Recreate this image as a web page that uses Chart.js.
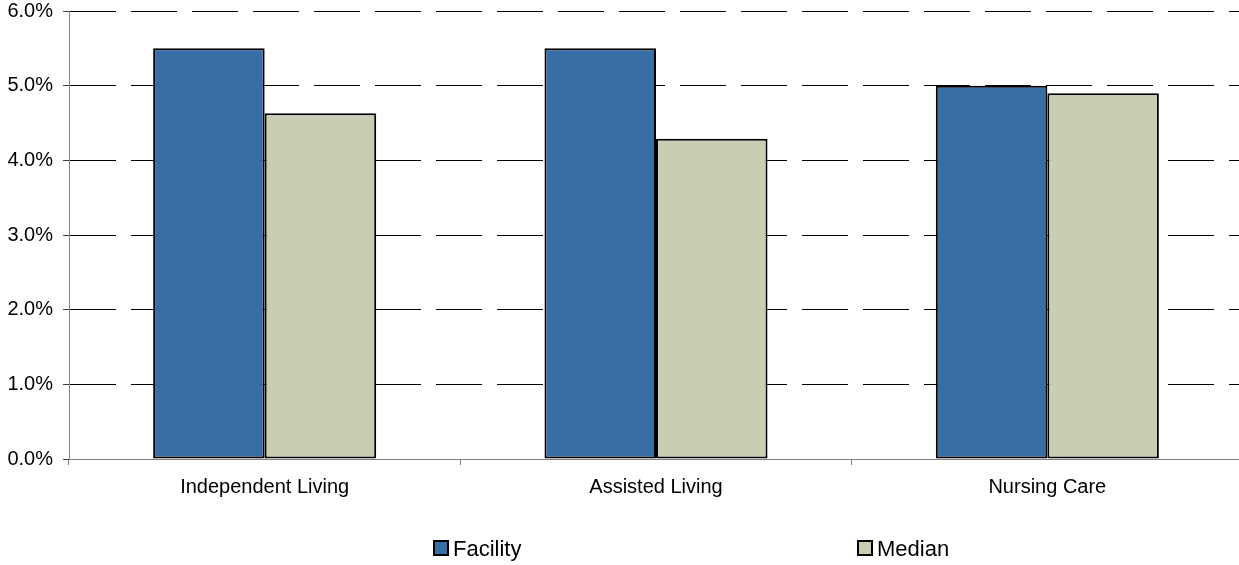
<!DOCTYPE html>
<html>
<head>
<meta charset="utf-8">
<script src="https://cdn.jsdelivr.net/npm/chart.js@4.4.1/dist/chart.umd.min.js"></script>
<style>
  html, body { margin: 0; padding: 0; background: #ffffff; overflow: hidden; }
  #wrap { position: relative; width: 1243px; height: 565px; }
</style>
</head>
<body>
<div id="wrap"><canvas id="chart"></canvas></div>
<script>
// Occupancy-style rates by care level, in percent
const categories = ['Independent Living', 'Assisted Living', 'Nursing Care'];
const facilityValues = [5.5, 5.5, 5.0];
const medianValues = [4.63, 4.29, 4.9];
const seriesNames = ['Facility', 'Median'];
const seriesColors = ['#376EA6', '#CBCDB3'];
const yTickLabels = ['0.0%', '1.0%', '2.0%', '3.0%', '4.0%', '5.0%', '6.0%'];

const FONT = '"Liberation Sans", Arial, Helvetica, sans-serif';

// Legend drawn along the bottom with widely spaced entries
const bottomLegend = {
  id: 'bottomLegend',
  afterDraw(chart) {
    const ctx = chart.ctx;
    const starts = [433, 857];
    const baseline = 556;
    ctx.save();
    ctx.font = '22px ' + FONT;
    ctx.textBaseline = 'alphabetic';
    ctx.textAlign = 'left';
    chart.data.datasets.forEach((ds, i) => {
      const x = starts[i];
      const top = 540;
      ctx.fillStyle = ds.backgroundColor;
      ctx.fillRect(x, top, 16, 16);
      ctx.lineWidth = 2;
      ctx.strokeStyle = '#000000';
      ctx.strokeRect(x + 1, top + 1, 14, 14);
      ctx.fillStyle = '#000000';
      ctx.fillText(ds.label, x + 20, baseline);
    });
    ctx.restore();
  }
};

new Chart(document.getElementById('chart'), {
  type: 'bar',
  data: {
    labels: categories,
    datasets: [
      {
        label: seriesNames[0],
        data: facilityValues,
        backgroundColor: seriesColors[0],
        borderColor: '#000000',
        borderWidth: 2,
        borderSkipped: false,
        categoryPercentage: 0.57,
        barPercentage: 1.0
      },
      {
        label: seriesNames[1],
        data: medianValues,
        backgroundColor: seriesColors[1],
        borderColor: '#000000',
        borderWidth: 2,
        borderSkipped: false,
        categoryPercentage: 0.57,
        barPercentage: 1.0
      }
    ]
  },
  options: {
    responsive: true,
    maintainAspectRatio: false,
    animation: false,
    devicePixelRatio: 1,
    layout: { padding: { left: 0, top: 11, right: 0, bottom: 56 } },
    plugins: {
      legend: { display: false },
      tooltip: { enabled: false }
    },
    scales: {
      x: {
        offset: true,
        grid: {
          display: true,
          offset: true,
          drawOnChartArea: false,
          drawTicks: true,
          tickLength: 6,
          color: '#808080',
          tickColor: '#808080'
        },
        border: { display: true, color: '#808080', width: 1 },
        ticks: {
          color: '#000000',
          font: { family: FONT, size: 20 },
          padding: 10,
          maxRotation: 0,
          autoSkip: false
        }
      },
      y: {
        min: 0,
        max: 6,
        afterFit: (scale) => {
          scale.width = 69;
          scale.paddingTop = 0;
          scale.paddingBottom = 0;
        },
        ticks: {
          stepSize: 1,
          color: '#000000',
          font: { family: FONT, size: 20 },
          padding: 10,
          callback: (value, index) => yTickLabels[index]
        },
        grid: {
          drawTicks: true,
          tickLength: 6,
          lineWidth: 1,
          color: (c) => (c.tick && c.tick.value === 0 ? 'rgba(0,0,0,0)' : '#000000'),
          tickColor: '#404040',
          tickBorderDash: []
        },
        border: { display: true, color: '#808080', width: 1, dash: [46, 15] }
      }
    }
  },
  plugins: [bottomLegend]
});
</script>
</body>
</html>
